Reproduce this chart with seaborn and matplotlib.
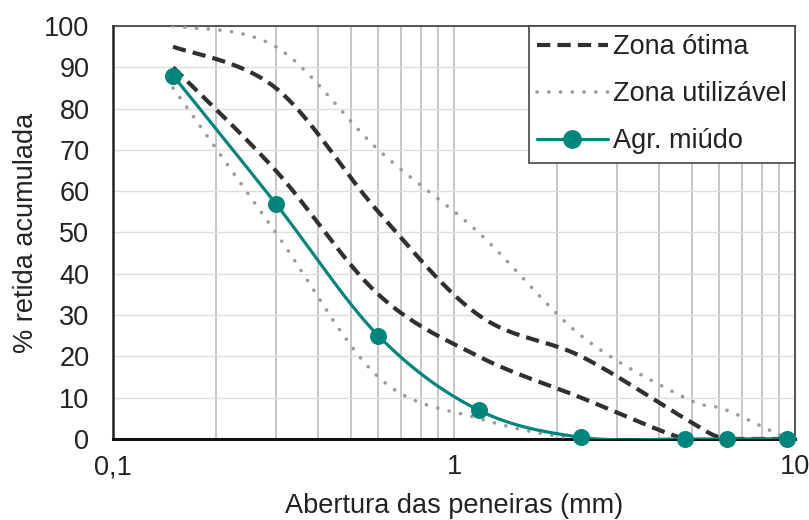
import numpy as np
import pandas as pd
import matplotlib
matplotlib.use("Agg")
import matplotlib.pyplot as plt
import seaborn as sns
from matplotlib.lines import Line2D
from matplotlib.ticker import FixedLocator, FixedFormatter, NullFormatter

# ---- data ----
sieves = [0.15, 0.3, 0.6, 1.18, 2.36, 4.75, 6.3, 9.5]
otima_sup = [95, 85, 55, 30, 20, 5, 0, 0]
otima_inf = [90, 65, 35, 20, 10, 0, 0, 0]
util_sup = [100, 95, 70, 50, 25, 10, 7, 0]
util_inf = [85, 50, 15, 5, 0, 0, 0, 0]
agr_miudo = [88, 57, 25, 7, 0.4, 0, 0, 0]
labels = ["Zona ótima", "Zona utilizável", "Agr. miúdo"]
xticks = [0.1, 1, 10]
xticklabels = ["0,1", "1", "10"]
yticks = list(range(0, 101, 10))

TEAL = "#00857d"
DARK = "#303030"
GRAY = "#9a9a9a"
FS = 19.5


def smooth(xs, ys, n=40):
    """Excel-like smoothed line (Catmull-Rom Bezier) in log-x screen space."""
    lx = np.log10(np.asarray(xs, float))
    y = np.asarray(ys, float)
    P = np.column_stack([lx, y])
    P = np.vstack([P[0], P, P[-1]])
    out = []
    t = np.linspace(0, 1, n)[:, None]
    for i in range(1, len(P) - 2):
        p0, p1, p2, p3 = P[i - 1], P[i], P[i + 1], P[i + 2]
        b1 = p1 + (p2 - p0) / 6
        b2 = p2 - (p3 - p1) / 6
        seg = ((1 - t) ** 3) * p1 + 3 * ((1 - t) ** 2) * t * b1 + 3 * (1 - t) * t ** 2 * b2 + t ** 3 * p2
        out.append(seg if i == 1 else seg[1:])
    c = np.vstack(out)
    return pd.DataFrame({"x": 10 ** c[:, 0], "y": c[:, 1]})


sns.set_theme(style="white")
plt.rcParams["font.family"] = ["Liberation Sans", "DejaVu Sans"]

fig = plt.figure(figsize=(8.09, 5.20), dpi=100)
ax = fig.add_axes([0.1397, 0.1558, 0.8430, 0.7942])
ax.set_xscale("log")

DOT = (0, (0.05, 3.2))
DASH = (0, (3.2, 1.7))
for ys in (util_sup, util_inf):
    d = smooth(sieves, ys)
    sns.lineplot(data=d, x="x", y="y", sort=False, ax=ax, color=GRAY,
                 lw=2.6, linestyle=DOT, dash_capstyle="round", zorder=3)
for ys in (otima_sup, otima_inf):
    d = smooth(sieves, ys)
    sns.lineplot(data=d, x="x", y="y", sort=False, ax=ax, color=DARK,
                 lw=3.0, linestyle=DASH, zorder=4)
d = smooth(sieves, agr_miudo)
sns.lineplot(data=d, x="x", y="y", sort=False, ax=ax, color=TEAL, lw=2.3, zorder=5)
pts = pd.DataFrame({"x": sieves, "y": agr_miudo})
sns.scatterplot(data=pts, x="x", y="y", ax=ax, color=TEAL, s=150,
                edgecolor=TEAL, linewidth=0, zorder=6, clip_on=False)

ax.set_xlim(0.1, 10)
ax.set_ylim(0, 100)
ax.xaxis.set_major_locator(FixedLocator(xticks))
ax.xaxis.set_major_formatter(FixedFormatter(xticklabels))
minors = [m * 10.0 ** e for e in (-1, 0) for m in range(2, 10)]
ax.xaxis.set_minor_locator(FixedLocator(minors))
ax.xaxis.set_minor_formatter(NullFormatter())
ax.set_yticks(yticks)
ax.set_yticklabels([str(v) for v in yticks])

ax.grid(True, which="both", axis="x", color="#c2c2c6", lw=1.3, zorder=0)
ax.grid(True, which="major", axis="y", color="#dedede", lw=1.0, zorder=0)
ax.set_axisbelow(True)
ax.tick_params(axis="both", which="both", length=0, labelsize=FS, colors="#222222")
ax.tick_params(axis="x", pad=11)
ax.tick_params(axis="y", pad=17)

for s in ax.spines.values():
    s.set_visible(True)
    s.set_color("#3a3a3a")
    s.set_linewidth(1.2)
ax.spines["bottom"].set_color("#111111")
ax.spines["bottom"].set_linewidth(2.2)
ax.spines["left"].set_color("#222222")
ax.spines["left"].set_linewidth(1.8)

ax.set_xlabel("Abertura das peneiras (mm)", fontsize=FS, color="#222222", labelpad=9)
ax.set_ylabel("% retida acumulada", fontsize=FS, color="#222222", labelpad=4)

handles = [
    Line2D([], [], color=DARK, lw=3.0, linestyle=DASH),
    Line2D([], [], color=GRAY, lw=2.6, linestyle=DOT, dash_capstyle="round"),
    Line2D([], [], color=TEAL, lw=2.3, marker="o", markersize=12.5),
]
leg = ax.legend(handles, labels, loc="upper right", fontsize=FS, frameon=True,
                fancybox=False, borderaxespad=0, handlelength=2.6, handletextpad=0.2,
                labelspacing=0.78, borderpad=0.3, edgecolor="#444444")
leg.get_frame().set_linewidth(1.2)
leg.get_frame().set_alpha(1)
leg.set_zorder(10)
for t in leg.get_texts():
    t.set_color("#222222")

fig.savefig("out.png", dpi=100)
